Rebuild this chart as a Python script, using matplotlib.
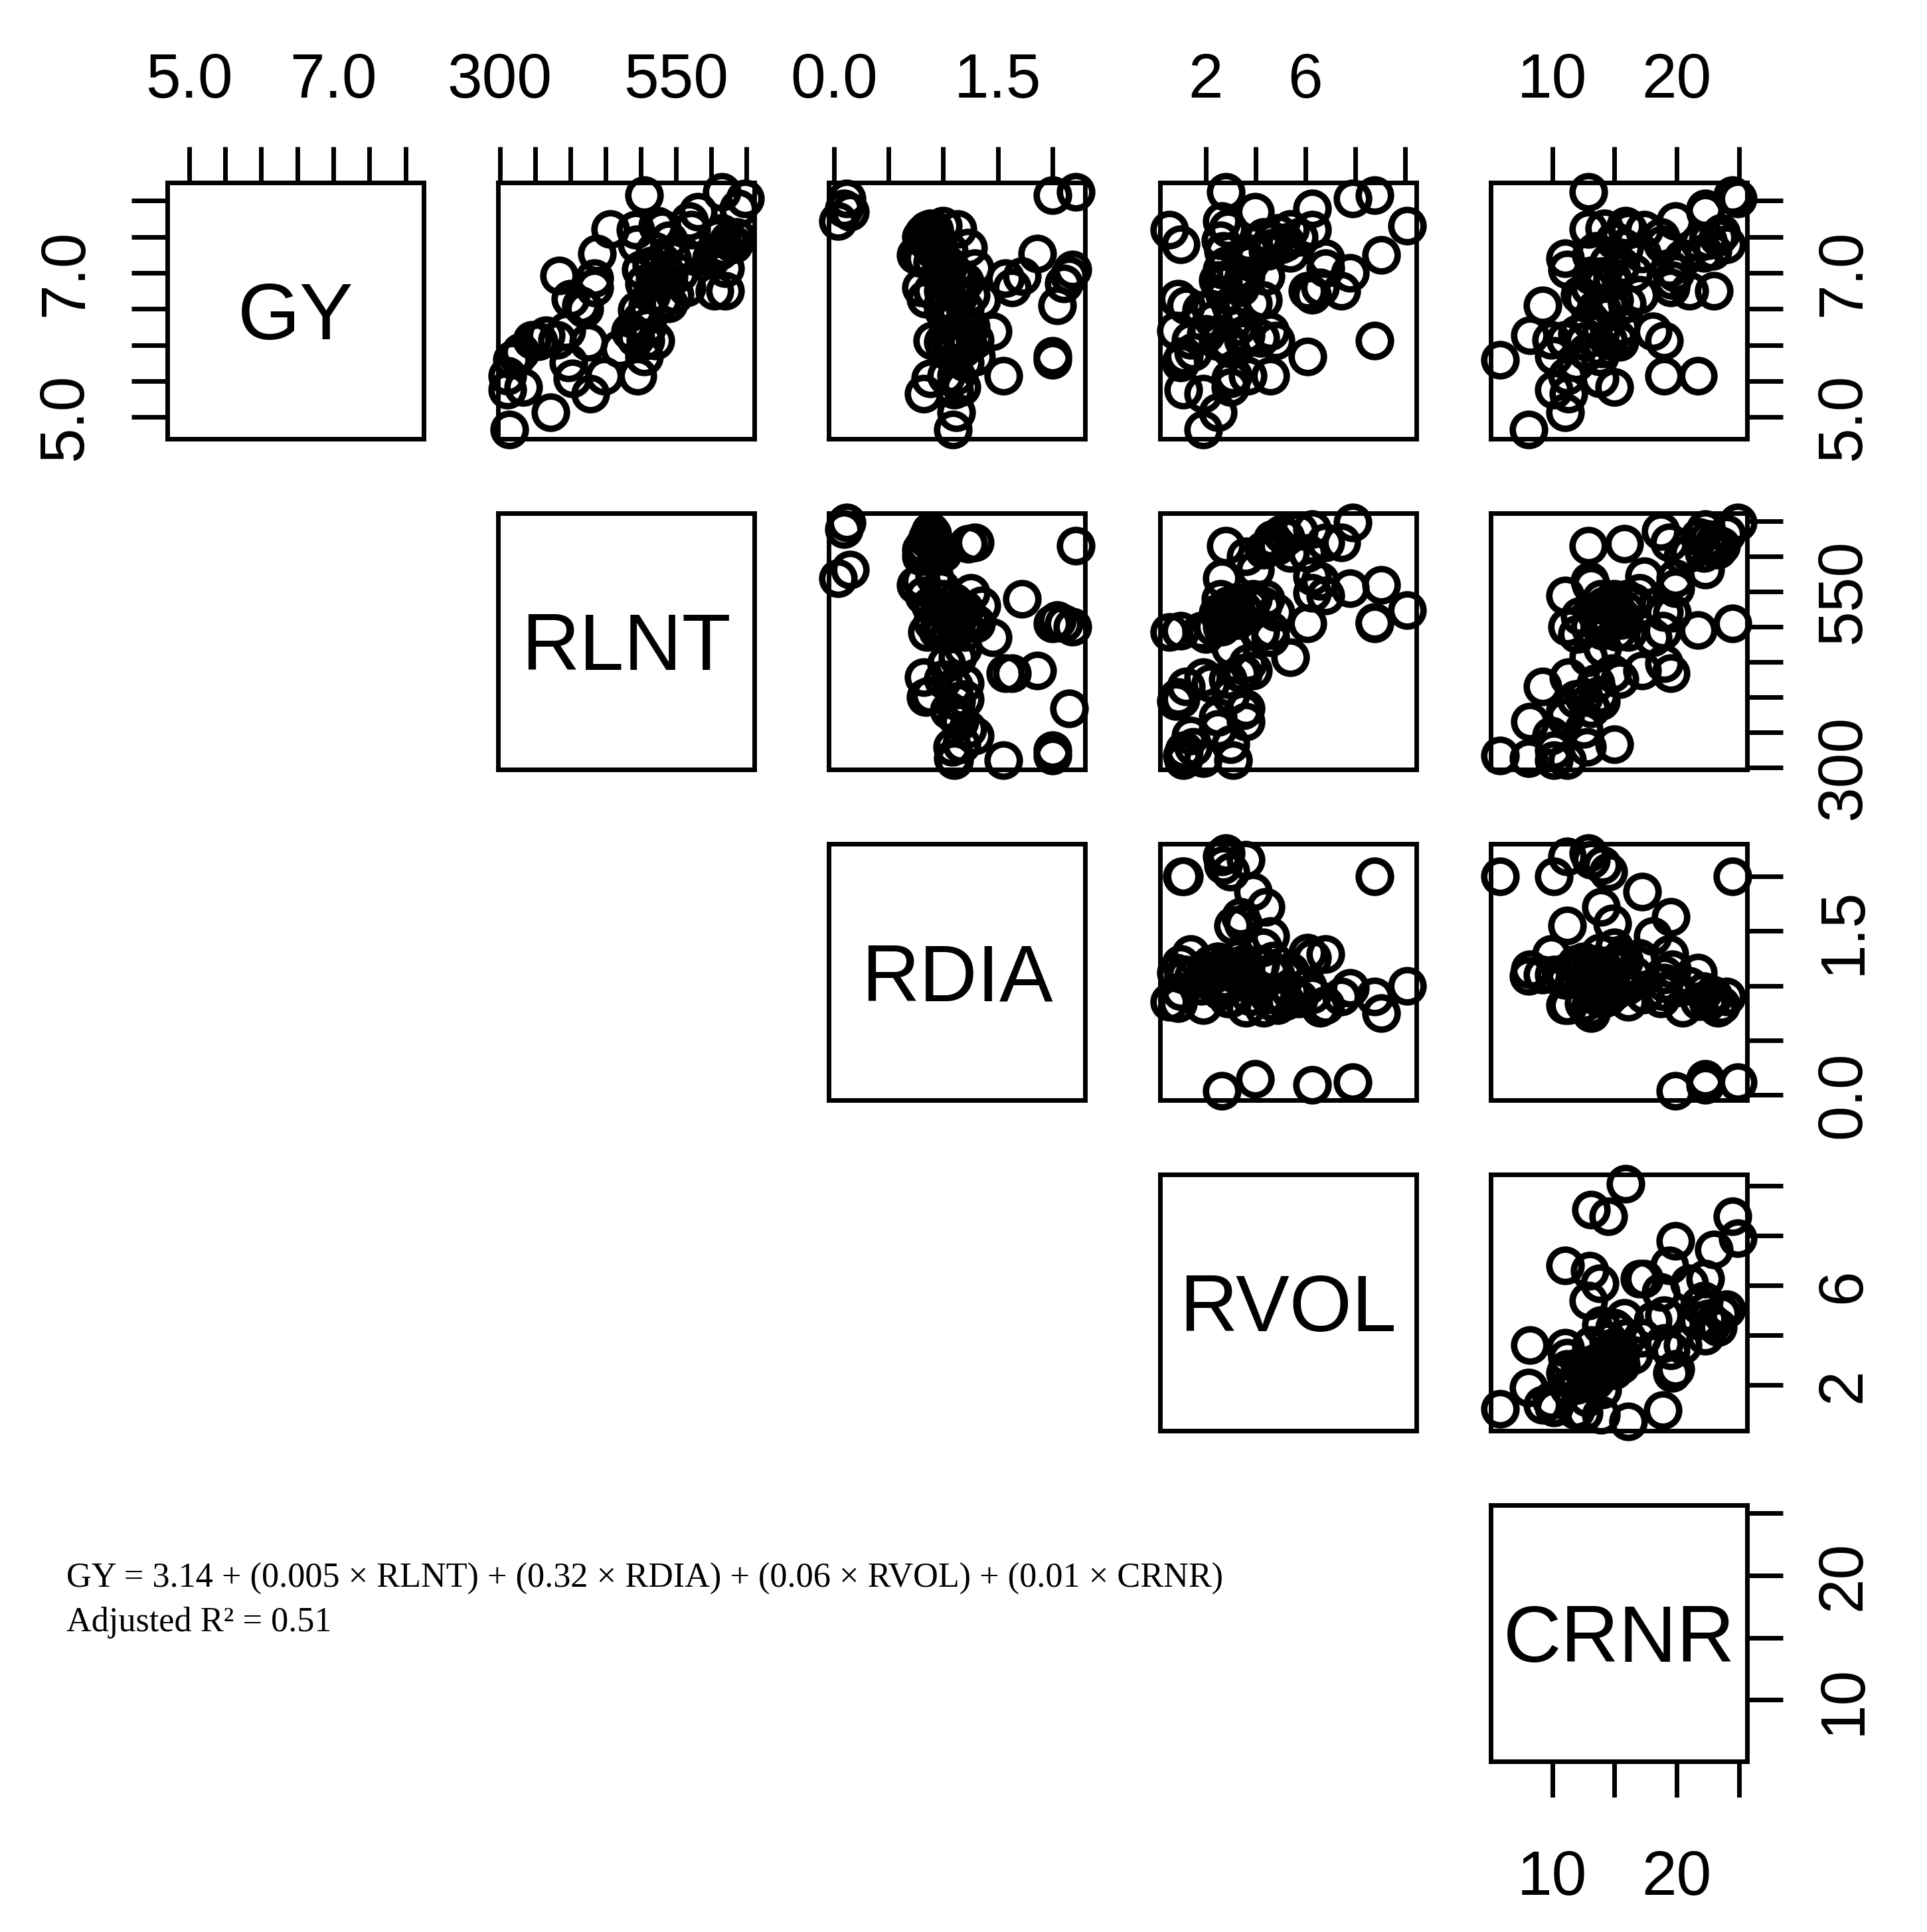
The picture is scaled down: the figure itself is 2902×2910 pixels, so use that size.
import matplotlib.pyplot as plt

# variables of the scatterplot matrix (one value per observation)
names = ["GY", "RLNT", "RDIA", "RVOL", "CRNR"]

gy = [8.03, 7.89, 7.85, 7.50, 7.45, 7.40, 7.28, 7.35, 7.50, 7.72,
      7.60, 7.06, 6.75, 6.75, 8.08, 7.65, 7.60, 7.40, 7.61, 7.27,
      6.96, 6.93, 6.80, 6.64, 6.55, 6.50, 7.25, 7.20, 7.15, 7.10,
      7.05, 7.00, 6.95, 6.90, 6.85, 6.80, 6.70, 6.62, 6.55, 6.48,
      6.19, 6.10, 6.06, 6.06, 5.57, 5.84, 5.79, 5.57, 5.38, 5.42,
      6.07, 6.13, 6.07, 5.76, 5.54, 6.04, 5.57, 5.32, 5.07, 4.83,
      5.85, 6.05, 8.12, 7.55, 7.42, 7.30, 7.62, 7.45, 7.30, 7.00,
      6.88, 6.70, 6.58, 6.35, 6.25, 6.15, 5.95, 7.20, 5.90, 6.20]
rlnt = [648, 639, 581, 610, 625, 632, 605, 618, 636, 569,
        572, 620, 620, 605, 505, 524, 493, 495, 457, 438,
        384, 434, 434, 400, 415, 420, 560, 545, 530, 515,
        500, 555, 540, 520, 505, 565, 548, 530, 510, 495,
        485, 493, 507, 521, 496, 505, 317, 311, 311, 333,
        346, 365, 381, 397, 403, 426, 448, 429, 372, 314,
        325, 355, 615, 615, 628, 612, 530, 540, 520, 535,
        525, 515, 540, 500, 510, 490, 470, 600, 330, 395]
rdia = [0.12, 0.09, 0.15, 0.80, 0.85, 0.90, 0.95, 1.23, 0.88, 0.04,
        0.92, 1.29, 0.90, 1.00, 2.00, 1.00, 0.85, 0.95, 1.13, 1.86,
        2.15, 1.57, 1.63, 0.84, 1.10, 1.20, 0.75, 0.82, 0.90, 1.05,
        2.18, 0.98, 1.72, 1.15, 2.10, 0.80, 1.25, 1.35, 2.04, 1.00,
        1.45, 1.20, 0.90, 1.10, 1.12, 1.30, 2.00, 1.55, 1.10, 1.17,
        1.29, 1.15, 1.05, 1.20, 0.88, 1.00, 1.03, 0.82, 1.12, 1.09,
        2.00, 1.22, 2.21, 0.82, 0.86, 0.92, 0.88, 0.95, 1.05, 1.10,
        1.20, 1.15, 1.00, 1.10, 1.25, 1.05, 1.18, 0.80, 1.08, 1.12]
rvol = [7.89, 6.28, 3.97, 4.33, 4.68, 5.04, 5.39, 4.70, 5.75, 2.64,
        6.28, 6.82, 7.45, 6.10, 8.78, 10.08, 0.55, 1.00, 5.40, 3.90,
        3.60, 3.50, 3.40, 0.90, 1.20, 2.20, 9.05, 6.82, 3.80, 2.80,
        2.64, 7.80, 4.40, 2.50, 2.70, 6.60, 6.28, 4.30, 3.00, 1.83,
        4.60, 4.20, 8.78, 4.80, 4.60, 6.10, 1.04, 3.10, 1.10, 2.99,
        1.40, 3.60, 3.50, 1.00, 3.00, 2.90, 3.70, 1.90, 2.50, 1.89,
        1.13, 2.50, 2.80, 4.90, 5.20, 4.50, 2.90, 2.60, 2.70, 3.20,
        3.50, 2.75, 3.90, 2.30, 3.30, 2.00, 3.00, 3.60, 1.50, 0.80]
crnr = [24.9, 22.3, 22.3, 23.3, 22.5, 24.0, 22.2, 15.8, 18.7, 19.9,
        17.4, 19.4, 23.0, 21.0, 24.5, 15.9, 16.1, 18.9, 12.9, 17.2,
        13.1, 14.8, 19.5, 12.5, 9.2, 13.5, 13.1, 11.0, 14.5, 15.5,
        11.2, 19.9, 13.9, 19.6, 14.0, 13.0, 17.0, 15.0, 14.5, 14.0,
        18.1, 15.2, 14.5, 19.0, 21.7, 13.8, 5.8, 11.2, 10.1, 15.0,
        9.9, 8.2, 11.0, 11.9, 13.8, 15.4, 19.0, 11.3, 11.0, 8.1,
        10.1, 12.5, 12.9, 23.6, 21.8, 22.9, 14.2, 15.0, 13.5, 16.5,
        14.8, 12.2, 16.0, 13.0, 15.5, 12.0, 14.0, 20.5, 12.8, 13.9]

# axis ticks and the labels R printed on them
ticks = [[5.0, 5.5, 6.0, 6.5, 7.0, 7.5, 8.0],
         [300, 350, 400, 450, 500, 550, 600, 650],
         [0.0, 0.5, 1.0, 1.5, 2.0],
         [2, 4, 6, 8, 10],
         [10, 15, 20, 25]]
tick_labels = [["5.0", "", "", "", "7.0", "", ""],
               ["300", "", "", "", "", "550", "", ""],
               ["0.0", "", "", "1.5", ""],
               ["2", "", "6", "", ""],
               ["10", "", "20", ""]]

data = [gy, rlnt, rdia, rvol, crnr]

W, H = 2902, 2910
LEFTS = [252, 750, 1248, 1747, 2245]
TOPS = [275, 773, 1271, 1769, 2267]
SIZE = 386
LW = 5


def r_range(values):
    # R pads the data range by 4% on both sides
    lo, hi = min(values), max(values)
    pad = 0.04 * (hi - lo)
    return lo - pad, hi + pad


fig = plt.figure(figsize=(W / 100, H / 100), dpi=100)
tick_font = {"family": ["Liberation Sans", "DejaVu Sans"], "size": 68}

for i in range(5):
    for j in range(i, 5):
        ax = fig.add_axes([LEFTS[j] / W, 1 - (TOPS[i] + SIZE) / H, SIZE / W, SIZE / H])
        ax.set_xlim(r_range(data[j]))
        ax.set_ylim(r_range(data[i]))
        for sp in ax.spines.values():
            sp.set_linewidth(LW)

        if i == j:
            # baseline placed so the capitals sit in the middle, like R's text()
            ax.text(0.5, 0.388, names[i], transform=ax.transAxes, ha="center", va="baseline",
                    fontsize=87, family=["Liberation Sans", "DejaVu Sans"])
        else:
            ax.plot(data[j], data[i], linestyle="none", marker="o", markersize=35,
                    markerfacecolor="none", markeredgecolor="black", markeredgewidth=7,
                    clip_on=False)

        ax.set_xticks(ticks[j])
        ax.set_yticks(ticks[i])
        ax.tick_params(axis="both", direction="out", length=39, width=LW,
                       top=False, bottom=False, left=False, right=False,
                       labeltop=False, labelbottom=False, labelleft=False, labelright=False)

        if i == 0:
            ax.tick_params(axis="x", top=True, labeltop=True, pad=39)
            ax.set_xticklabels(tick_labels[j], fontdict=tick_font)
        if i == 4 and j == 4:
            ax.tick_params(axis="x", bottom=True, labelbottom=True, pad=56)
            ax.set_xticklabels(tick_labels[j], fontdict=tick_font)
        if j == 4:
            ax.tick_params(axis="y", right=True, labelright=True, pad=34)
            ax.set_yticklabels(tick_labels[i], fontdict=tick_font, rotation=90, va="center")
        if i == 0 and j == 0:
            ax.tick_params(axis="y", left=True, labelleft=True, pad=39)
            ax.set_yticklabels(tick_labels[i], fontdict=tick_font, rotation=90, va="center")

# regression equation written under the matrix
serif = ["Liberation Serif", "DejaVu Serif"]
fig.text(100 / W, 1 - 2391 / H,
         "GY = 3.14 + (0.005 \u00d7 RLNT) + (0.32 \u00d7 RDIA) + (0.06 \u00d7 RVOL) + (0.01 \u00d7 CRNR)",
         fontsize=37.6, family=serif, va="baseline", ha="left")
fig.text(100 / W, 1 - 2457 / H, "Adjusted R\u00b2 = 0.51",
         fontsize=37.6, family=serif, va="baseline", ha="left")

fig.savefig("out.png", dpi=100)
